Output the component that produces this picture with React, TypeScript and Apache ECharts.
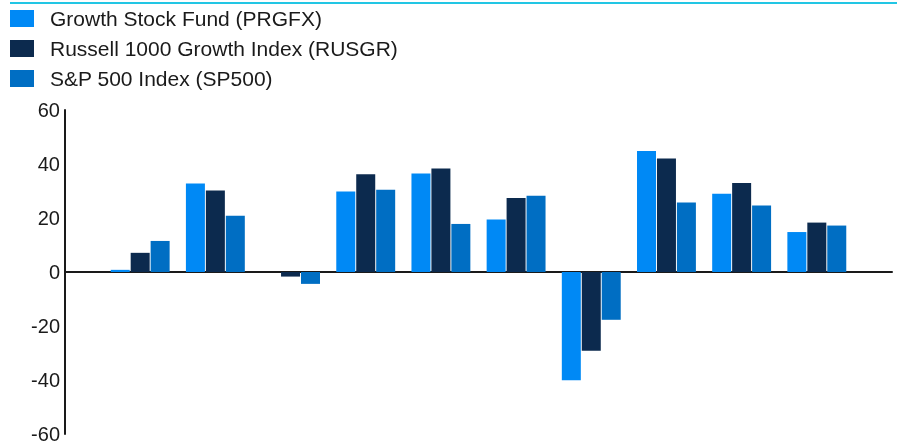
import React, { useEffect, useRef } from "react";
import * as echarts from "echarts";

const years = ["2016", "2017", "2018", "2019", "2020", "2021", "2022", "2023", "2024", "2025"];
const seriesNames = ["Growth Stock Fund (PRGFX)", "Russell 1000 Growth Index (RUSGR)", "S&P 500 Index (SP500)"];
const prgfx = [0.8, 32.8, 0, 29.8, 36.5, 19.4, -40.1, 44.8, 29.0, 14.8];
const rusgr = [7.1, 30.2, -1.7, 36.2, 38.3, 27.4, -29.2, 42.0, 33.0, 18.3];
const sp500 = [11.5, 20.8, -4.4, 30.5, 17.8, 28.2, -17.7, 25.7, 24.6, 17.2];
const colors = ["#0089f5", "#0c2a4e", "#006ec3"];
const yTicks = { min: -60, max: 60, interval: 20 };

// pad one empty slot each side so the bars sit like the reference
const pad = <T,>(arr: T[], fill: T): T[] => [fill, ...arr, fill];

export default function App() {
  const ref = useRef<HTMLDivElement>(null);
  useEffect(() => {
    if (!ref.current) return;
    const chart = echarts.init(ref.current, undefined, { renderer: "svg" });
    const font = "Arial, 'Liberation Sans', sans-serif";
    const allData = [prgfx, rusgr, sp500];
    chart.setOption({
      animation: false,
      textStyle: { fontFamily: font },
      graphic: [
        {
          type: "line",
          shape: { x1: 10, y1: 3, x2: 897, y2: 3 },
          style: { stroke: "#22c6e4", lineWidth: 2 },
        },
      ],
      legend: {
        orient: "vertical",
        left: 10,
        top: 8,
        itemWidth: 24,
        itemHeight: 17,
        itemGap: 9,
        padding: 0,
        icon: "rect",
        data: seriesNames,
        textStyle: { fontSize: 21, lineHeight: 21, color: "#1a1a1a", fontFamily: font, padding: [0, 0, 0, 11] },
      },
      grid: { left: 65, right: 5, top: 110, bottom: 8, containLabel: false },
      xAxis: {
        type: "category",
        boundaryGap: false,
        data: pad(years, ""),
        axisLine: { show: true, onZero: true, lineStyle: { color: "#1a1a1a", width: 2 } },
        axisTick: { show: false },
        axisLabel: { show: false },
        splitLine: { show: false },
      },
      yAxis: {
        type: "value",
        min: yTicks.min,
        max: yTicks.max,
        interval: yTicks.interval,
        axisLine: { show: true, lineStyle: { color: "#1a1a1a", width: 2 } },
        axisTick: { show: false },
        splitLine: { show: false },
        axisLabel: { fontSize: 20, color: "#1a1a1a", margin: 5, fontFamily: font },
      },
      series: seriesNames.map((name, i) => ({
        name,
        type: "bar",
        data: pad(allData[i] as (number | null)[], null),
        barWidth: 19,
        barGap: "5%",
        itemStyle: { color: colors[i] },
      })),
    });
    return () => chart.dispose();
  }, []);
  return <div ref={ref} style={{ position: "fixed", left: 0, top: 0, width: 897, height: 444 }} />;
}
